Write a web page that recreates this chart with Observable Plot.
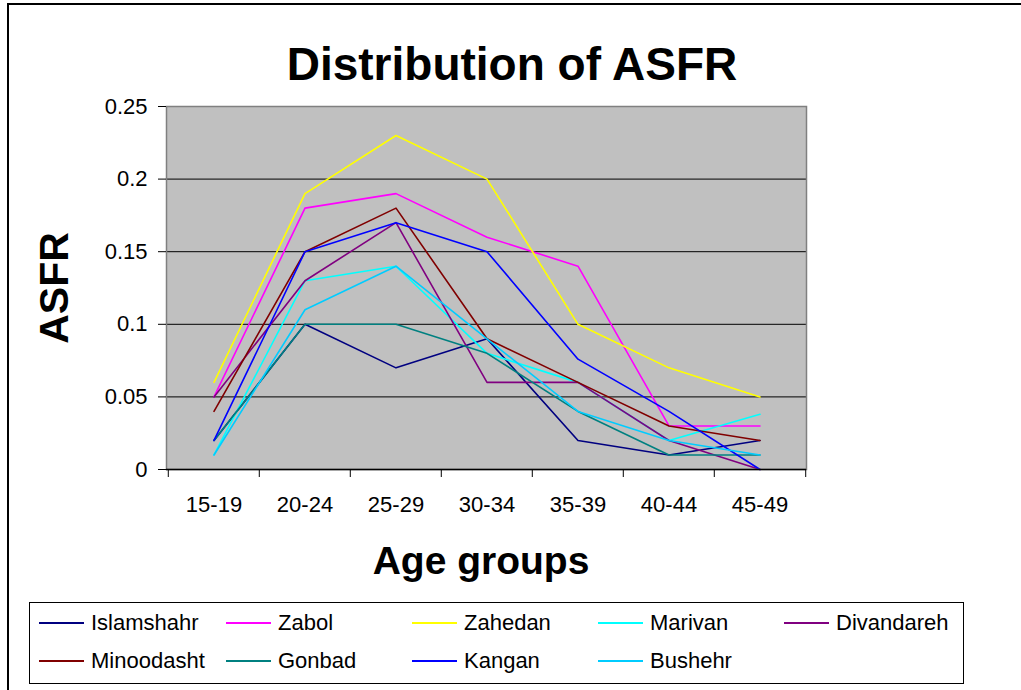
<!DOCTYPE html>
<html>
<head>
<meta charset="utf-8">
<script src="https://cdn.jsdelivr.net/npm/d3@7"></script>
<script src="https://cdn.jsdelivr.net/npm/@observablehq/plot@0.6"></script>
<style>
  html, body { margin: 0; padding: 0; background: #fff; overflow: hidden; width: 1021px; height: 690px; }
  #wrap { position: relative; width: 1021px; height: 690px; font-family: "Liberation Sans", Arial, sans-serif; color: #000; }
  #border { position: absolute; left: 7px; top: 3px; width: 1040px; height: 720px; border: 2px solid #000; box-sizing: border-box; }
  #title { position: absolute; left: 0; width: 1024px; top: 36px; text-align: center; font-weight: bold; font-size: 46px; line-height: 56px; }
  #xlabel { position: absolute; left: 281px; width: 400px; top: 536px; text-align: center; font-weight: bold; font-size: 39px; line-height: 50px; }
  #ylabel { position: absolute; left: 54px; top: 288px; width: 200px; margin-left: -100px; margin-top: -25px; text-align: center; font-weight: bold; font-size: 41px; line-height: 50px; transform: rotate(-90deg); }
  #chart { position: absolute; left: 0; top: 0; }
  #legend { position: absolute; left: 29px; top: 602px; width: 935px; height: 82px; border: 1px solid #000; box-sizing: border-box; }
  .item { position: absolute; height: 30px; }
  .item .sw { position: absolute; left: 0; top: 14px; width: 45px; height: 2px; }
  .item .lb { position: absolute; left: 52px; top: 0; font-size: 22px; line-height: 30px; white-space: nowrap; }
</style>
</head>
<body>
<div id="wrap">
  <div id="border"></div>
  <div id="chart"></div>
  <div id="title">Distribution of ASFR</div>
  <div id="ylabel">ASFR</div>
  <div id="xlabel">Age groups</div>
  <div id="legend"></div>
</div>
<script>
const ages = ["15-19", "20-24", "25-29", "30-34", "35-39", "40-44", "45-49"];
const seriesNames = ["Islamshahr", "Zabol", "Zahedan", "Marivan", "Divandareh", "Minoodasht", "Gonbad", "Kangan", "Bushehr"];
const seriesColors = ["#000080", "#ff00ff", "#ffff00", "#00ffff", "#800080", "#800000", "#008080", "#0000ff", "#00ccff"];
const islamshahr = [0.02, 0.10, 0.07, 0.09, 0.02, 0.01, 0.02];
const zabol      = [0.05, 0.18, 0.19, 0.16, 0.14, 0.03, 0.03];
const zahedan    = [0.06, 0.19, 0.23, 0.20, 0.10, 0.07, 0.05];
const marivan    = [0.01, 0.13, 0.14, 0.08, 0.06, 0.02, 0.038];
const divandareh = [0.05, 0.13, 0.17, 0.06, 0.06, 0.02, 0.00];
const minoodasht = [0.04, 0.15, 0.18, 0.09, 0.06, 0.03, 0.02];
const gonbad     = [0.02, 0.10, 0.10, 0.08, 0.04, 0.01, 0.01];
const kangan     = [0.02, 0.15, 0.17, 0.15, 0.076, 0.04, 0.00];
const bushehr    = [0.01, 0.11, 0.14, 0.09, 0.04, 0.02, 0.01];
const yTicks = [0, 0.05, 0.1, 0.15, 0.2, 0.25];
const gridTicks = [0.05, 0.1, 0.15, 0.2];

const seriesValues = [islamshahr, zabol, zahedan, marivan, divandareh, minoodasht, gonbad, kangan, bushehr];
const data = [];
seriesNames.forEach((name, i) => {
  ages.forEach((a, j) => data.push({series: name, age: a, value: seriesValues[i][j]}));
});

const W = 1021, H = 600;
const mL = 166, mR = 215, mT = 106, mB = 131;
const bw = (W - mL - mR) / ages.length;

const chart = Plot.plot({
  width: W,
  height: H,
  marginLeft: mL,
  marginRight: mR,
  marginTop: mT,
  marginBottom: mB,
  style: {fontFamily: "'Liberation Sans', Arial, sans-serif", fontSize: "22px", color: "#000", background: "transparent", overflow: "visible"},
  x: {type: "band", domain: ages, padding: 0, label: null},
  y: {domain: [0, 0.25], label: null},
  color: {domain: seriesNames, range: seriesColors},
  marks: [
    Plot.frame({fill: "#c0c0c0"}),
    Plot.ruleY(gridTicks, {stroke: "#000", strokeWidth: 1}),
    Plot.line(data, {x: "age", y: "value", z: "series", stroke: "series", strokeWidth: 1.6}),
    Plot.frame({stroke: "#808080", strokeWidth: 1.5}),
    Plot.ruleY([0], {stroke: "#000", strokeWidth: 1.5}),
    Plot.axisY(yTicks, {tickSize: 8, tickPadding: 11, tickFormat: d => String(d), label: null, fontSize: 22, stroke: "#000"}),
    Plot.axisX({tickSize: 0, tickPadding: 27, label: null, fontSize: 22}),
    Plot.axisX({tickSize: 8, tickFormat: () => "", label: null, dx: -bw / 2, stroke: "#000"}),
    Plot.axisX([ages[ages.length - 1]], {tickSize: 8, tickFormat: () => "", label: null, dx: bw / 2, stroke: "#000"})
  ]
});
document.getElementById("chart").appendChild(chart);

const legend = document.getElementById("legend");
const colX = [9, 196, 382, 568, 754];
const rowY = [5, 43];
seriesNames.forEach((name, i) => {
  const it = document.createElement("div");
  it.className = "item";
  it.style.left = colX[i % 5] + "px";
  it.style.top = rowY[Math.floor(i / 5)] + "px";
  const sw = document.createElement("div");
  sw.className = "sw";
  sw.style.background = seriesColors[i];
  const lb = document.createElement("div");
  lb.className = "lb";
  lb.textContent = name;
  it.appendChild(sw);
  it.appendChild(lb);
  legend.appendChild(it);
});
</script>
</body>
</html>
